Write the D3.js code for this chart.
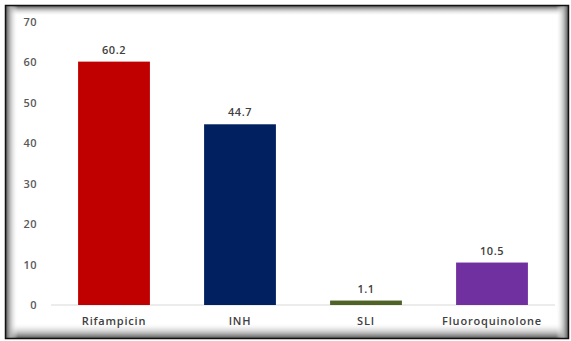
<!DOCTYPE html>
<html>
<head>
<meta charset="utf-8">
<script src="https://cdn.jsdelivr.net/npm/d3@7"></script>
<style>
  html, body { margin: 0; padding: 0; background: #fff; }
  svg text { font-family: "Open Sans", "Liberation Sans", sans-serif; }
</style>
</head>
<body>
<svg id="chart" width="571" height="341"></svg>
<script>
const categories = ["Rifampicin", "INH", "SLI", "Fluoroquinolone"];
const values = [60.2, 44.7, 1.1, 10.5];
const colors = ["#C00000", "#002060", "#4F6228", "#7030A0"];
const yTicks = [0, 10, 20, 30, 40, 50, 60, 70];

const svg = d3.select("#chart");
const margin = { top: 22, right: 16, bottom: 36, left: 51 };
const width = 555 - margin.left;
const plotBottom = 305;

// frame with inner shadow
const defs = svg.append("defs");
function grad(id, x1, y1, x2, y2) {
  const g = defs.append("linearGradient").attr("id", id)
    .attr("x1", x1).attr("y1", y1).attr("x2", x2).attr("y2", y2);
  g.append("stop").attr("offset", "0%").attr("stop-color", "#5e5e5e").attr("stop-opacity", 1);
  g.append("stop").attr("offset", "35%").attr("stop-color", "#b0b0b0").attr("stop-opacity", 0.85);
  g.append("stop").attr("offset", "100%").attr("stop-color", "#ffffff").attr("stop-opacity", 0);
}
grad("gl", 0, 0, 1, 0);
grad("gr", 1, 0, 0, 0);
grad("gt", 0, 0, 0, 1);
grad("gb", 0, 1, 0, 0);

const fx0 = 6, fy0 = 6, fx1 = 568, fy1 = 338;
svg.append("rect").attr("x", fx0).attr("y", fy0).attr("width", fx1 - fx0).attr("height", 10).attr("fill", "url(#gt)");
svg.append("rect").attr("x", fx0).attr("y", fy1 - 15).attr("width", fx1 - fx0).attr("height", 15).attr("fill", "url(#gb)");
svg.append("rect").attr("x", fx0).attr("y", fy0).attr("width", 12).attr("height", fy1 - fy0).attr("fill", "url(#gl)");
svg.append("rect").attr("x", fx1 - 12).attr("y", fy0).attr("width", 12).attr("height", fy1 - fy0).attr("fill", "url(#gr)");
svg.append("rect")
  .attr("x", fx0 - 0.5).attr("y", fy0 - 0.5)
  .attr("width", fx1 - fx0 + 1).attr("height", fy1 - fy0 + 1)
  .attr("fill", "none").attr("stroke", "#111").attr("stroke-width", 1.5);

const x = d3.scaleBand()
  .domain(categories)
  .range([margin.left, margin.left + width])
  .paddingInner(0.43)
  .paddingOuter(0.215);

const y = d3.scaleLinear()
  .domain([0, 70])
  .range([plotBottom, margin.top]);

// y axis labels
svg.append("g")
  .attr("class", "axis y-axis")
  .attr("transform", `translate(${margin.left - 14},0)`)
  .call(d3.axisLeft(y).tickValues(yTicks).tickSize(0).tickPadding(0))
  .call(g => g.select(".domain").remove())
  .selectAll("text")
  .attr("fill", "#595959")
  .attr("font-size", 11)
  .attr("font-weight", 600)
  .attr("letter-spacing", 0.5);

// baseline
svg.append("line")
  .attr("x1", margin.left).attr("x2", margin.left + width)
  .attr("y1", y(0)).attr("y2", y(0))
  .attr("stroke", "#d9d9d9").attr("stroke-width", 1);

// bars
svg.selectAll(".bar")
  .data(values)
  .enter().append("rect")
  .attr("class", "bar")
  .attr("x", (d, i) => x(categories[i]))
  .attr("y", d => y(d))
  .attr("width", x.bandwidth())
  .attr("height", d => y(0) - y(d))
  .attr("fill", (d, i) => colors[i]);

// value labels
svg.selectAll(".val")
  .data(values)
  .enter().append("text")
  .attr("class", "val")
  .attr("x", (d, i) => x(categories[i]) + x.bandwidth() / 2)
  .attr("y", d => y(d) - 8)
  .attr("text-anchor", "middle")
  .attr("font-size", 11)
  .attr("font-weight", 600)
  .attr("letter-spacing", 0.5)
  .attr("fill", "#404040")
  .text(d => d3.format(".1f")(d));

// category labels
svg.append("g")
  .attr("class", "axis x-axis")
  .attr("transform", `translate(0,${plotBottom})`)
  .call(d3.axisBottom(x).tickSize(0).tickPadding(12))
  .call(g => g.select(".domain").remove())
  .selectAll("text")
  .attr("fill", "#404040")
  .attr("font-size", 11)
  .attr("font-weight", 600)
  .attr("letter-spacing", 0.8);
</script>
</body>
</html>
